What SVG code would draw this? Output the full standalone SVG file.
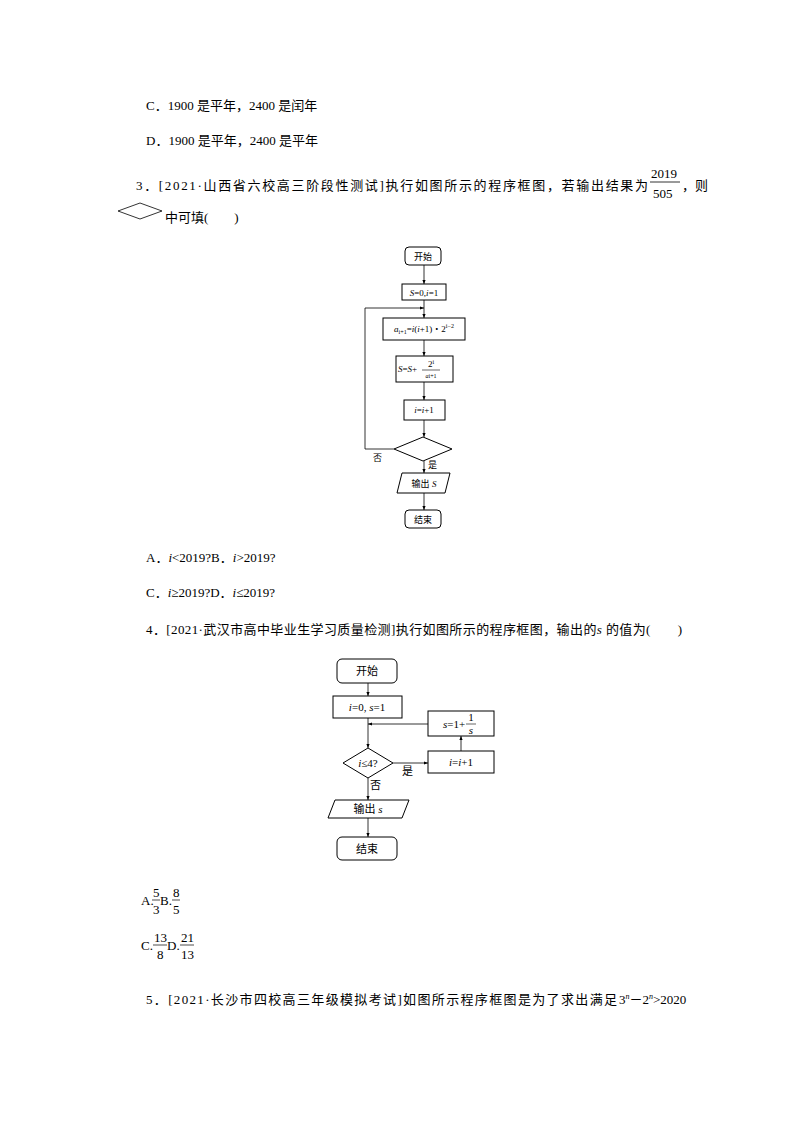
<svg xmlns="http://www.w3.org/2000/svg" width="794" height="1123" viewBox="0 0 794 1123">
<defs>
<marker id="ar" viewBox="0 0 10 10" refX="10" refY="5" markerWidth="5" markerHeight="5" orient="auto"><path d="M0,1 L10,5 L0,9 z" fill="#000"/></marker>
</defs>
<style>
text{font-family:"Liberation Serif","Noto Sans CJK SC",serif;fill:#000}
.t{font-size:13px}
.s{font-size:9px}
.f{font-size:11px}
.b{fill:#fff;stroke:#000;stroke-width:1}
.l{fill:none;stroke:#000;stroke-width:0.8}
</style>
<rect width="794" height="1123" fill="#fff"/>
<text class="t" x="146" y="110">C．1900 是平年，2400 是闰年</text>
<text class="t" x="146" y="145">D．1900 是平年，2400 是平年</text>
<text class="t" x="136" y="190" textLength="512" lengthAdjust="spacing">3．[2021·山西省六校高三阶段性测试]执行如图所示的程序框图，若输出结果为</text>
<text class="t" x="651" y="178">2019</text>
<line x1="650" y1="182" x2="680" y2="182" stroke="#000" stroke-width="0.8"/>
<text class="t" x="653" y="198">505</text>
<text class="t" x="682" y="190">，则</text>
<polygon points="118,211 140,203 162,211 140,219" class="l"/>
<text class="t" x="165" y="222">中可填(　　)</text>

<g id="chart1">
<g class="l">
<path d="M424,265 V284" marker-end="url(#ar)"/>
<path d="M424,300 V318" marker-end="url(#ar)"/>
<path d="M424,340 V356" marker-end="url(#ar)"/>
<path d="M424,382 V400" marker-end="url(#ar)"/>
<path d="M424,420 V437" marker-end="url(#ar)"/>
<path d="M424,461 V473" marker-end="url(#ar)"/>
<path d="M424,493 V510" marker-end="url(#ar)"/>
<path d="M394,449 H365 V308 H424" marker-end="url(#ar)"/>
</g>
<g id="n1a"><rect class="b" x="405" y="247" width="36" height="18" rx="4"/><text class="s" x="423" y="259.5" text-anchor="middle">开始</text></g>
<g id="n1b"><rect class="b" x="402" y="284" width="44" height="16"/><text class="s" x="424" y="295.5" text-anchor="middle"><tspan font-style="italic">S</tspan>=0,<tspan font-style="italic">i</tspan>=1</text></g>
<g id="n1c"><rect class="b" x="383" y="318" width="82" height="22"/><text class="s" x="424" y="332" text-anchor="middle"><tspan font-style="italic">a</tspan><tspan font-size="6" dy="2">i+1</tspan><tspan dy="-2">=</tspan><tspan font-style="italic">i</tspan>(<tspan font-style="italic">i</tspan>+1)・2<tspan font-size="6" dy="-4">i−2</tspan></text></g>
<g id="n1d"><rect class="b" x="396" y="356" width="57" height="26"/><text class="s" x="398" y="372"><tspan font-style="italic">S</tspan>=<tspan font-style="italic">S</tspan>+</text><text class="s" x="431" y="367" text-anchor="middle">2<tspan font-size="6" dy="-3">i</tspan></text><line x1="422" y1="370" x2="440" y2="370" stroke="#000" stroke-width="0.6"/><text font-size="6" x="431" y="378" text-anchor="middle" font-style="italic">a<tspan font-style="normal">i+1</tspan></text></g>
<g id="n1e"><rect class="b" x="404" y="400" width="41" height="20"/><text class="s" x="424" y="413" text-anchor="middle"><tspan font-style="italic">i</tspan>=<tspan font-style="italic">i</tspan>+1</text></g>
<g id="n1f"><polygon class="b" points="394,449 423,437 452,449 423,461"/></g>
<text class="s" x="373" y="461">否</text>
<text class="s" x="428" y="468">是</text>
<g id="n1g"><polygon class="b" points="402,473 450,473 445,493 397,493"/><text class="s" x="424" y="486.5" text-anchor="middle">输出 <tspan font-style="italic">S</tspan></text></g>
<g id="n1h"><rect class="b" x="405" y="510" width="36" height="18" rx="4"/><text class="s" x="423" y="522.5" text-anchor="middle">结束</text></g>
</g>

<text class="t" x="146" y="562">A．<tspan font-style="italic">i</tspan>&lt;2019?B．<tspan font-style="italic">i</tspan>&gt;2019?</text>
<text class="t" x="146" y="597">C．<tspan font-style="italic">i</tspan>≥2019?D．<tspan font-style="italic">i</tspan>≤2019?</text>
<text class="t" x="146" y="634" textLength="536" lengthAdjust="spacing">4．[2021·武汉市高中毕业生学习质量检测]执行如图所示的程序框图，输出的<tspan font-style="italic">s</tspan> 的值为(　　)</text>

<g id="chart2">
<g class="l">
<path d="M368,683 V696" marker-end="url(#ar)"/>
<path d="M368,718 V748" marker-end="url(#ar)"/>
<path d="M368,778 V800" marker-end="url(#ar)"/>
<path d="M368,818 V837" marker-end="url(#ar)"/>
<path d="M393,763 H428" marker-end="url(#ar)"/>
<path d="M461,751 V736" marker-end="url(#ar)"/>
<path d="M428,724 H368" marker-end="url(#ar)"/>
</g>
<g id="n2a"><rect class="b" x="337" y="659" width="60" height="24" rx="5"/><text class="f" x="367" y="675" text-anchor="middle">开始</text></g>
<g id="n2b"><rect class="b" x="333" y="696" width="69" height="22"/><text class="f" x="367" y="711" text-anchor="middle"><tspan font-style="italic">i</tspan>=0, <tspan font-style="italic">s</tspan>=1</text></g>
<g id="n2c"><rect class="b" x="428" y="711" width="66" height="25"/><text class="f" x="443" y="728" font-style="italic">s<tspan font-style="normal">=1+</tspan></text><text class="f" x="471" y="721" text-anchor="middle">1</text><line x1="466" y1="724" x2="476" y2="724" stroke="#000" stroke-width="0.6"/><text class="f" x="471" y="734" text-anchor="middle" font-style="italic">s</text></g>
<g id="n2d"><polygon class="b" points="343,763 368,748 393,763 368,778"/><text class="f" x="368" y="767" text-anchor="middle"><tspan font-style="italic">i</tspan>≤4?</text></g>
<g id="n2e"><rect class="b" x="428" y="751" width="66" height="22"/><text class="f" x="461" y="766" text-anchor="middle"><tspan font-style="italic">i</tspan>=<tspan font-style="italic">i</tspan>+1</text></g>
<text class="f" x="402" y="775">是</text>
<text class="f" x="370" y="789">否</text>
<g id="n2f"><polygon class="b" points="335,800 409,800 402,818 328,818"/><text class="f" x="368" y="813" text-anchor="middle">输出 <tspan font-style="italic">s</tspan></text></g>
<g id="n2g"><rect class="b" x="337" y="837" width="60" height="23" rx="5"/><text class="f" x="367" y="853" text-anchor="middle">结束</text></g>
</g>

<text class="t" x="141" y="905">A.</text>
<text class="t" x="153" y="897">5</text><line x1="152" y1="900" x2="160" y2="900" stroke="#000" stroke-width="0.7"/><text class="t" x="153" y="914">3</text>
<text class="t" x="160" y="905">B.</text>
<text class="t" x="173" y="897">8</text><line x1="172" y1="900" x2="180" y2="900" stroke="#000" stroke-width="0.7"/><text class="t" x="173" y="914">5</text>
<text class="t" x="141" y="950">C.</text>
<text class="t" x="154" y="942">13</text><line x1="153" y1="945" x2="167" y2="945" stroke="#000" stroke-width="0.7"/><text class="t" x="157" y="959">8</text>
<text class="t" x="167" y="950">D.</text>
<text class="t" x="181" y="942">21</text><line x1="180" y1="945" x2="194" y2="945" stroke="#000" stroke-width="0.7"/><text class="t" x="181" y="959">13</text>
<text class="t" x="146" y="1004" textLength="471" lengthAdjust="spacing">5．[2021·长沙市四校高三年级模拟考试]如图所示程序框图是为了求出满足 </text>
<text class="t" x="619" y="1004">3<tspan font-size="8" dy="-5" font-style="italic">n</tspan><tspan dy="5">－2</tspan><tspan font-size="8" dy="-5" font-style="italic">n</tspan><tspan dy="5">&gt;2020</tspan></text>
</svg>
